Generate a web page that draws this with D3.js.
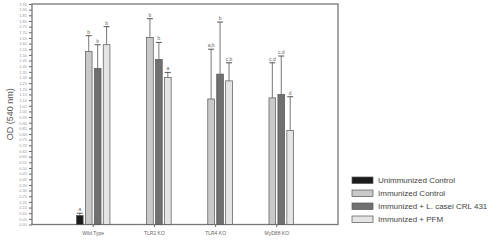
<!DOCTYPE html>
<html>
<head>
<meta charset="utf-8">
<script src="https://cdn.jsdelivr.net/npm/d3@7"></script>
<style>
  html, body { margin: 0; padding: 0; background: #fff; }
  svg { display: block; font-family: "Liberation Sans", Arial, sans-serif; }
</style>
</head>
<body>
<svg id="chart" width="500" height="243"></svg>
<script>
// OD (540 nm) by mouse strain and treatment
const GROUPS = ["Wild Type", "TLR2 KO", "TLR4 KO", "MyD88 KO"];
const SERIES = ["Unimmunized Control", "Immunized Control", "Immunized + L. casei CRL 431", "Immunized + PFM"];
const FILLS = ["#1c1c1c", "#c9c9c9", "#707070", "#e4e4e4"];

// null = no bar for that strain
const MEANS = [
  [0.08, 1.53, 1.38, 1.59],
  [null, 1.655, 1.46, 1.30],
  [null, 1.11, 1.33, 1.27],
  [null, 1.12, 1.15, 0.83]
];
const ERR_TOPS = [
  [0.10, 1.67, 1.59, 1.75],
  [null, 1.82, 1.61, 1.345],
  [null, 1.55, 1.79, 1.43],
  [null, 1.43, 1.49, 1.13]
];
const LETTERS = [
  ["a", "b", "b", "b"],
  [null, "b", "b", "a"],
  [null, "a,b", "b", "c,b"],
  [null, "c,d", "c,d", "d"]
];
const Y_TICKS = d3.range(0, 40).map(i => +(i * 0.05).toFixed(2));

const svg = d3.select("#chart");
const mLeft = 32, mRight = 338, mTop = 4, mBottom = 224.5;

const y = d3.scaleLinear().domain([0, 1.95]).range([mBottom, mTop]);
const x0 = d3.scaleBand().domain(GROUPS).range([mLeft, mRight]).paddingOuter(0.5).paddingInner(0);
const x1 = d3.scaleBand().domain(SERIES).range([0, x0.bandwidth()]).paddingOuter(1.55).paddingInner(0.25);

const rows = [];
GROUPS.forEach((g, gi) => SERIES.forEach((s, si) => {
  if (MEANS[gi][si] == null) return;
  rows.push({g, s, si, v: MEANS[gi][si], e: ERR_TOPS[gi][si], l: LETTERS[gi][si]});
}));

// y axis
const yAxis = svg.append("g").attr("transform", `translate(${mLeft},0)`)
  .call(d3.axisLeft(y).tickValues(Y_TICKS).tickFormat(d3.format(".2f")).tickSize(3).tickPadding(2));
yAxis.select(".domain").remove();
yAxis.selectAll("line").attr("stroke", "#666");
yAxis.selectAll("text").attr("font-size", 4).attr("fill", "#999");

// x axis
const xAxis = svg.append("g").attr("transform", `translate(0,${mBottom})`)
  .call(d3.axisBottom(x0).tickSize(2.5).tickPadding(4));
xAxis.select(".domain").remove();
xAxis.selectAll("line").attr("stroke", "#666");
xAxis.selectAll("text").attr("font-size", 5).attr("fill", "#666");

// frame
svg.append("rect").attr("x", mLeft).attr("y", mTop)
  .attr("width", mRight - mLeft).attr("height", mBottom - mTop)
  .attr("fill", "none").attr("stroke", "#777").attr("stroke-width", 1.3);

svg.append("text").attr("transform", `translate(13,${(mTop + mBottom) / 2}) rotate(-90)`)
  .attr("text-anchor", "middle").attr("font-size", 9).attr("fill", "#555")
  .text("OD (540 nm)");

// error bars
const eb = svg.append("g").selectAll("g").data(rows).join("g")
  .attr("transform", d => `translate(${x0(d.g) + x1(d.s) + x1.bandwidth() / 2},0)`);
eb.append("line").attr("y1", d => y(d.v)).attr("y2", d => y(d.e))
  .attr("stroke", "#777").attr("stroke-width", 1);
eb.append("line").attr("x1", -3).attr("x2", 3).attr("y1", d => y(d.e)).attr("y2", d => y(d.e))
  .attr("stroke", "#555").attr("stroke-width", 1);
eb.append("text").attr("y", d => y(d.e) - 2).attr("text-anchor", "middle")
  .attr("font-size", 5).attr("fill", "#666").text(d => d.l);

// bars
svg.append("g").selectAll("rect").data(rows).join("rect")
  .attr("x", d => x0(d.g) + x1(d.s))
  .attr("y", d => y(d.v))
  .attr("width", x1.bandwidth())
  .attr("height", d => y(0) - y(d.v))
  .attr("fill", d => FILLS[d.si])
  .attr("stroke", "#555").attr("stroke-width", 0.7);

// legend
const lg = svg.append("g").attr("transform", "translate(352,177)");
const li = lg.selectAll("g").data(SERIES).join("g")
  .attr("transform", (d, i) => `translate(0,${i * 13})`);
li.append("rect").attr("width", 21).attr("height", 6.5)
  .attr("fill", (d, i) => FILLS[i]).attr("stroke", "#555").attr("stroke-width", 0.7);
li.append("text").attr("x", 26).attr("y", 6).attr("font-size", 8).attr("fill", "#444").text(d => d);
</script>
</body>
</html>
